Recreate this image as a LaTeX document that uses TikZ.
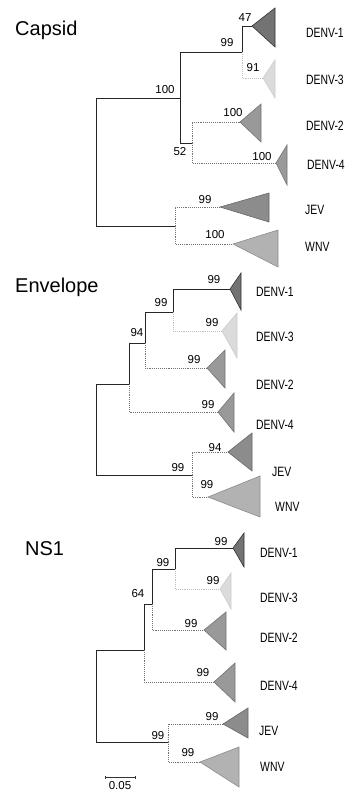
\documentclass[tikz,border=0pt]{standalone}
\usepackage{fontspec}
\setmainfont{Liberation Sans}
\newfontfamily\taxfont[FakeStretch=0.77]{Liberation Sans}
\usetikzlibrary{arrows.meta}
\definecolor{dvone}{gray}{0.45}
\definecolor{dvthree}{gray}{0.86}
\definecolor{dvmid}{gray}{0.6}
\definecolor{jevgray}{gray}{0.55}
\definecolor{wnvgray}{gray}{0.7}

% one collapsed clade: apex coordinate, right edge x, top y, bottom y
\newcommand{\clade}[5][]{%
  \draw[tri,#1] (#2) -- (#3,#4) -- (#3,#5) -- cycle;}

\begin{document}
\begin{tikzpicture}[x=1pt,y=-1pt,
  br/.style={draw=black!85,line width=0.9pt},
  brg/.style={draw=black!55,line width=0.9pt,densely dotted},
  brl/.style={draw=black!25,line width=0.9pt,densely dotted},
  tri/.style={line width=0.6pt,line join=miter},
  boot/.style={font=\fontsize{11.5}{12}\selectfont,inner sep=0pt},
  taxon/.style={font=\taxfont\fontsize{13.5}{14}\selectfont,anchor=west,inner sep=0pt},
  panel/.style={font=\fontsize{20}{20}\selectfont,anchor=west,inner sep=0pt}
]
\useasboundingbox (0,0) rectangle (359,793);

% ---------------- Capsid ----------------
\node[panel] (capT) at (15,30) {Capsid};
\coordinate (c0) at (96,162);
\coordinate (c100) at (180,98);
\coordinate (c99) at (242,52);
\coordinate (c52) at (192,143);
\coordinate (cjw) at (175,226);
\coordinate (cd1) at (252,26);
\coordinate (cd3) at (263,78);
\coordinate (cd2) at (240,122);
\coordinate (cd4) at (276,163);
\coordinate (cjev) at (220,207);
\coordinate (cwnv) at (233,244);

\draw[br] (c0) |- (c100);
\draw[br] (c0) |- (cjw);
\draw[br] (c100) |- (c99);
\draw[br] (c100) |- (c52);
\draw[br] (c99) |- (cd1);
\draw[brl] (c99) |- (cd3);
\draw[brg] (c52) |- (cd2);
\draw[brg] (c52) |- (cd4);
\draw[brg] (cjw) |- (cjev);
\draw[brg] (cjw) |- (cwnv);

\clade[fill=dvone,draw=black!80]{cd1}{275}{8}{47}
\clade[fill=dvthree,draw=black!20]{cd3}{275}{60}{98}
\clade[fill=dvmid,draw=black!55]{cd2}{261}{104}{142}
\clade[fill=dvmid,draw=black!55]{cd4}{287}{145}{185}
\clade[fill=jevgray,draw=black!60]{cjev}{269}{193}{222}
\clade[fill=wnvgray,draw=black!45]{cwnv}{278}{230}{267}

\node[boot] (cb100) at (165,90) {100};
\node[boot] (cb99) at (227,43) {99};
\node[boot] (cb47) at (245,18) {47};
\node[boot] (cb91) at (253,68) {91};
\node[boot] (cb52) at (180,152) {52};
\node[boot] (cb2) at (233,113) {100};
\node[boot] (cb4) at (262,157) {100};
\node[boot] (cbj) at (205,200) {99};
\node[boot] (cbw) at (215,235) {100};

\node[taxon] (cl1) at (306,33) {DENV-1};
\node[taxon] (cl3) at (306,80) {DENV-3};
\node[taxon] (cl2) at (306,126) {DENV-2};
\node[taxon] (cl4) at (307,165) {DENV-4};
\node[taxon] (clj) at (305,210) {JEV};
\node[taxon] (clw) at (305,247) {WNV};

% ---------------- Envelope ----------------
\node[panel] (envT) at (15,287) {Envelope};
\coordinate (e0) at (96,430);
\coordinate (e94) at (129,384);
\coordinate (e99a) at (145,343);
\coordinate (e99b) at (173,312);
\coordinate (ejw) at (192,475);
\coordinate (ed1) at (230,289);
\coordinate (ed3) at (222,331);
\coordinate (ed2) at (207,368);
\coordinate (ed4) at (218,412);
\coordinate (ejev) at (228,452);
\coordinate (ewnv) at (208,497);

\draw[br] (e0) |- (e94);
\draw[br] (e0) |- (ejw);
\draw[br] (e94) |- (e99a);
\draw[brg] (e94) |- (ed4);
\draw[br] (e99a) |- (e99b);
\draw[brg] (e99a) |- (ed2);
\draw[br] (e99b) |- (ed1);
\draw[brl] (e99b) |- (ed3);
\draw[brg] (ejw) |- (ejev);
\draw[brg] (ejw) |- (ewnv);

\clade[fill=dvone,draw=black!80]{ed1}{241}{273}{310}
\clade[fill=dvthree,draw=black!20]{ed3}{237}{313}{358}
\clade[fill=dvmid,draw=black!55]{ed2}{225}{350}{388}
\clade[fill=dvmid,draw=black!55]{ed4}{234}{393}{432}
\clade[fill=jevgray,draw=black!60]{ejev}{252}{433}{471}
\clade[fill=wnvgray,draw=black!45]{ewnv}{260}{476}{517}

\node[boot] (eb94) at (137,333) {94};
\node[boot] (eb99a) at (161,303) {99};
\node[boot] (eb1) at (214,280) {99};
\node[boot] (eb3) at (212,323) {99};
\node[boot] (eb2) at (194,360) {99};
\node[boot] (eb4) at (208,405) {99};
\node[boot] (ebr) at (178,468) {99};
\node[boot] (ebj) at (215,448) {94};
\node[boot] (ebw) at (207,485) {99};

\node[taxon] (el1) at (256,292) {DENV-1};
\node[taxon] (el3) at (256,337) {DENV-3};
\node[taxon] (el2) at (256,385) {DENV-2};
\node[taxon] (el4) at (256,425) {DENV-4};
\node[taxon] (elj) at (272,472) {JEV};
\node[taxon] (elw) at (275,507) {WNV};

% ---------------- NS1 ----------------
\node[panel] (nsT) at (25,549) {NS1};
\coordinate (n0) at (96,696);
\coordinate (n64) at (144,650);
\coordinate (n99a) at (152,604);
\coordinate (n99b) at (175,569);
\coordinate (njw) at (168,742);
\coordinate (nd1) at (233,548);
\coordinate (nd3) at (220,589);
\coordinate (nd2) at (204,630);
\coordinate (nd4) at (214,682);
\coordinate (njev) at (223,724);
\coordinate (nwnv) at (200,762);

\draw[br] (n0) |- (n64);
\draw[br] (n0) |- (njw);
\draw[br] (n64) |- (n99a);
\draw[brg] (n64) |- (nd4);
\draw[br] (n99a) |- (n99b);
\draw[brg] (n99a) |- (nd2);
\draw[br] (n99b) |- (nd1);
\draw[brl] (n99b) |- (nd3);
\draw[brg] (njw) |- (njev);
\draw[brg] (njw) |- (nwnv);

\clade[fill=dvone,draw=black!80]{nd1}{244}{533}{567}
\clade[fill=dvthree,draw=black!20]{nd3}{231}{573}{609}
\clade[fill=dvmid,draw=black!55]{nd2}{226}{612}{650}
\clade[fill=dvmid,draw=black!55]{nd4}{235}{663}{702}
\clade[fill=jevgray,draw=black!60]{njev}{248}{708}{738}
\clade[fill=wnvgray,draw=black!45]{nwnv}{239}{747}{787}

\node[boot] (nb64) at (138,594) {64};
\node[boot] (nb99a) at (163,563) {99};
\node[boot] (nb1) at (221,542) {99};
\node[boot] (nb3) at (213,581) {99};
\node[boot] (nb2) at (191,624) {99};
\node[boot] (nb4) at (203,673) {99};
\node[boot] (nbr) at (158,736) {99};
\node[boot] (nbj) at (212,717) {99};
\node[boot] (nbw) at (188,753) {99};

\node[taxon] (nl1) at (260,553) {DENV-1};
\node[taxon] (nl3) at (260,598) {DENV-3};
\node[taxon] (nl2) at (260,638) {DENV-2};
\node[taxon] (nl4) at (260,686) {DENV-4};
\node[taxon] (nlj) at (259,731) {JEV};
\node[taxon] (nlw) at (260,767) {WNV};

% scale bar
\coordinate (sbL) at (105,777);
\coordinate (sbR) at (136,777);
\draw[black!80,line width=0.7pt,{Bar[width=3pt]}-{Bar[width=3pt]}] (sbL) -- (sbR);
\node[boot] (sbT) at (120,786) {0.05};
\end{tikzpicture}
\end{document}
